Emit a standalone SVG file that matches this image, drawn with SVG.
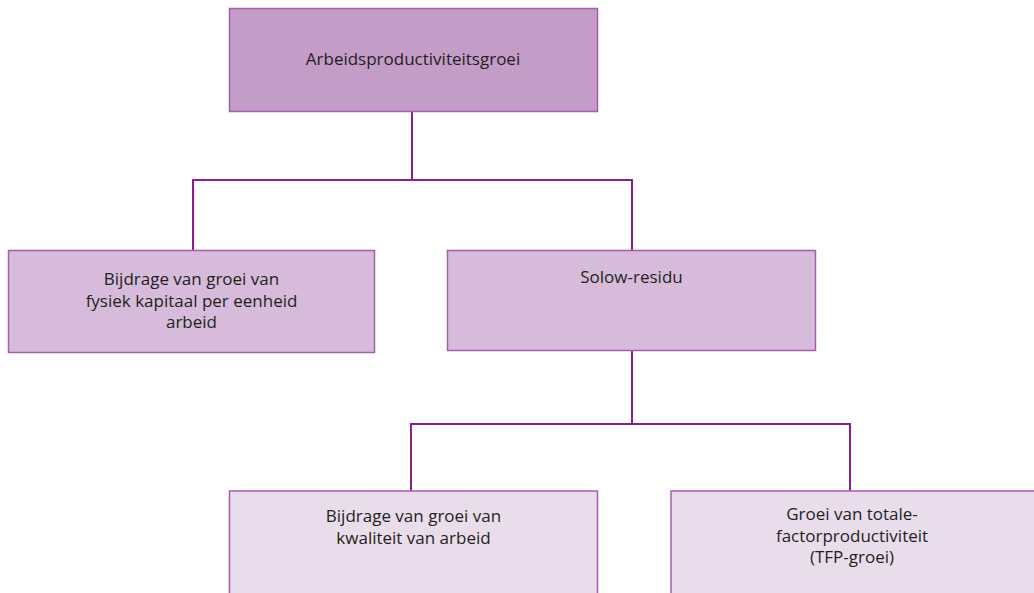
<svg xmlns="http://www.w3.org/2000/svg" width="1034" height="593" viewBox="0 0 1034 593">
  <style>
    .box { stroke: #A35FAA; stroke-width: 1.5; }
    .l0 { fill: #C39CC7; }
    .l1 { fill: #D6BCDA; }
    .l2 { fill: #E9DDEC; }
    .lbl { font-family: "Open Sans", "Noto Sans", "Liberation Sans", sans-serif; font-size: 17px; fill: #231F20; text-anchor: middle; }
    .wire { fill: none; stroke: #8A2088; stroke-width: 2; }
  </style>
  <rect width="1034" height="593" fill="#FFFFFF"/>
  <g id="connectors">
    <path class="wire" d="M412 112 V180 M193 250 V180 H632 V250"/>
    <path class="wire" d="M632 351 V424 M411 491 V424 H850 V491"/>
  </g>
  <g id="node-arbeidsproductiviteitsgroei">
    <rect class="box l0" x="229.5" y="8.5" width="368" height="103"/>
    <text class="lbl" x="413" y="65">Arbeidsproductiviteitsgroei</text>
  </g>
  <g id="node-fysiek-kapitaal">
    <rect class="box l1" x="8.5" y="250.5" width="366" height="102"/>
    <text class="lbl" x="191.5" y="285">Bijdrage van groei van</text>
    <text class="lbl" x="191.5" y="306.5">fysiek kapitaal per eenheid</text>
    <text class="lbl" x="191.5" y="328">arbeid</text>
  </g>
  <g id="node-solow-residu">
    <rect class="box l1" x="447.5" y="250.5" width="368" height="100"/>
    <text class="lbl" x="631.5" y="283">Solow-residu</text>
  </g>
  <g id="node-kwaliteit-arbeid">
    <rect class="box l2" x="229.5" y="491" width="368" height="110"/>
    <text class="lbl" x="413.5" y="522">Bijdrage van groei van</text>
    <text class="lbl" x="413.5" y="543.5">kwaliteit van arbeid</text>
  </g>
  <g id="node-tfp-groei">
    <rect class="box l2" x="671" y="491" width="368" height="110"/>
    <text class="lbl" x="852" y="520">Groei van totale-</text>
    <text class="lbl" x="852" y="541.5">factorproductiviteit</text>
    <text class="lbl" x="852" y="563">(TFP-groei)</text>
  </g>
</svg>
